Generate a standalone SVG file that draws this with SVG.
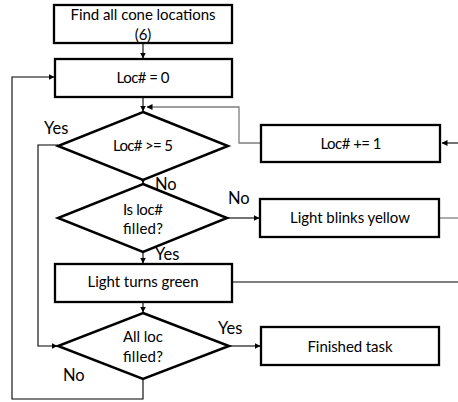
<svg xmlns="http://www.w3.org/2000/svg" width="458" height="402" viewBox="0 0 458 402">
<style>
.box{fill:#fff;stroke:#000;stroke-width:2.3}
.dia{fill:#fff;stroke:#000;stroke-width:2.5}
.t{font-family:Lato,"Open Sans","Liberation Sans",sans-serif;font-size:15px;fill:#000;text-anchor:middle}
.l{font-family:Lato,"Open Sans","Liberation Sans",sans-serif;font-size:16.5px;fill:#000}
.c{fill:none;stroke:#000;stroke-width:1.1}
.g{fill:none;stroke:#7f7f7f;stroke-width:1.3}
</style>
<defs>
<marker id="ah" markerWidth="6" markerHeight="6" refX="5.5" refY="3" orient="auto" markerUnits="userSpaceOnUse">
<path d="M0,0 L6,3 L0,6 Z" fill="#000"/>
</marker>
</defs>
<g id="connectors">
<line class="c" x1="143" y1="43" x2="143" y2="58" marker-end="url(#ah)"/>
<line class="c" x1="143" y1="97" x2="143" y2="111" marker-end="url(#ah)"/>
<path class="g" d="M261,143 H239 V107 H147" marker-end="url(#ah)"/>
<line class="c" x1="143" y1="178" x2="143" y2="183" marker-end="url(#ah)"/>
<path class="c" d="M58,145 H38 V346 H57" marker-end="url(#ah)"/>
<line class="c" x1="228" y1="218" x2="259" y2="218" marker-end="url(#ah)"/>
<line class="c" x1="143" y1="251" x2="143" y2="263" marker-end="url(#ah)"/>
<line class="c" x1="143" y1="302" x2="143" y2="312" marker-end="url(#ah)"/>
<line class="c" x1="229" y1="346" x2="260" y2="346" marker-end="url(#ah)"/>
<path class="c" d="M143,379 V399 H12 V77 H54" marker-end="url(#ah)"/>
<line class="c" x1="458" y1="143" x2="442" y2="143" marker-end="url(#ah)"/>
<line class="g" x1="439" y1="218" x2="458" y2="218"/>
<line class="c" x1="232" y1="282" x2="458" y2="282"/>
</g>
<g id="find">
<rect class="box" x="54" y="5" width="178" height="38"/>
<text class="t" x="143" y="20" textLength="145">Find all cone locations</text>
<text class="t" x="143" y="40">(6)</text>
</g>
<g id="loc0">
<rect class="box" x="55" y="59" width="177" height="38"/>
<text class="t" x="143" y="83" textLength="53">Loc# = 0</text>
</g>
<g id="check5">
<polygon class="dia" points="143,112 228,146 143,180 58,146"/>
<text class="t" x="143" y="151" textLength="60">Loc# &gt;= 5</text>
</g>
<g id="filled">
<polygon class="dia" points="143,184 227,218 143,252 58,218"/>
<text class="t" x="143" y="215" textLength="40">Is loc#</text>
<text class="t" x="143" y="234" textLength="40">filled?</text>
</g>
<g id="green">
<rect class="box" x="55" y="264" width="177" height="38"/>
<text class="t" x="143" y="287" textLength="111">Light turns green</text>
</g>
<g id="allfilled">
<polygon class="dia" points="143,313 229,346 143,379 58,346"/>
<text class="t" x="143" y="342" textLength="40">All loc</text>
<text class="t" x="143" y="362" textLength="40">filled?</text>
</g>
<g id="inc">
<rect class="box" x="261" y="125" width="179" height="37"/>
<text class="t" x="351" y="149" textLength="61">Loc# += 1</text>
</g>
<g id="yellow">
<rect class="box" x="260" y="199" width="179" height="38"/>
<text class="t" x="350" y="223" textLength="120">Light blinks yellow</text>
</g>
<g id="finished">
<rect class="box" x="261" y="327" width="178" height="38"/>
<text class="t" x="350" y="352" textLength="85">Finished task</text>
</g>
<g id="labels">
<text class="l" x="44" y="134">Yes</text>
<text class="l" x="155" y="190">No</text>
<text class="l" x="228" y="204">No</text>
<text class="l" x="155" y="260">Yes</text>
<text class="l" x="218" y="334">Yes</text>
<text class="l" x="63" y="381">No</text>
</g>
</svg>
